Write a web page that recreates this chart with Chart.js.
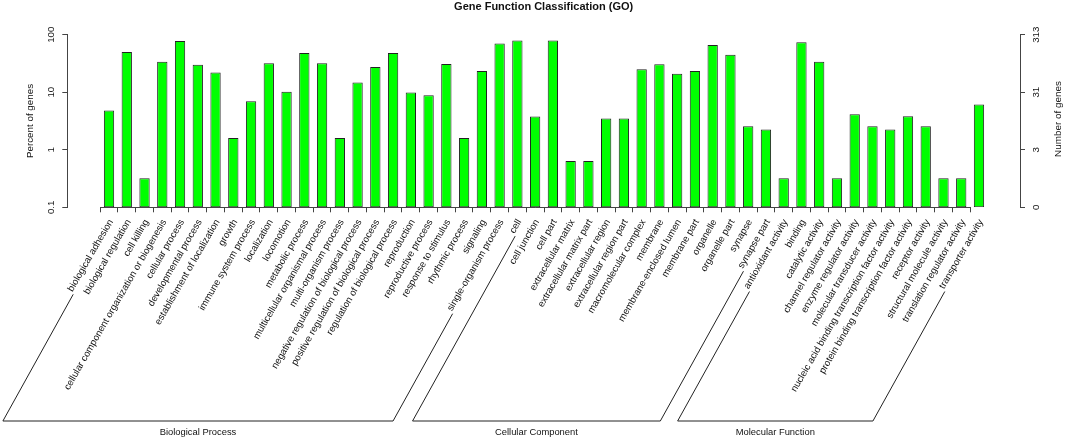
<!DOCTYPE html>
<html>
<head>
<meta charset="utf-8">
<script src="https://cdn.jsdelivr.net/npm/chart.js@4.4.0/dist/chart.umd.min.js"></script>
<style>
  html, body { margin: 0; padding: 0; background: #ffffff; }
  #wrap { width: 1065px; height: 440px; position: relative; }
</style>
</head>
<body>
<div id="wrap"><canvas id="chart"></canvas></div>
<script>
// ---------------- data ----------------
const chartTitle = 'Gene Function Classification (GO)';
const categories = [
  'biological adhesion', 'biological regulation', 'cell killing',
  'cellular component organization or biogenesis', 'cellular process',
  'developmental process', 'establishment of localization', 'growth',
  'immune system process', 'localization', 'locomotion', 'metabolic process',
  'multicellular organismal process', 'multi-organism process',
  'negative regulation of biological process', 'positive regulation of biological process',
  'regulation of biological process', 'reproduction', 'reproductive process',
  'response to stimulus', 'rhythmic process', 'signaling', 'single-organism process',
  'cell', 'cell junction', 'cell part', 'extracellular matrix', 'extracellular matrix part',
  'extracellular region', 'extracellular region part', 'macromolecular complex', 'membrane',
  'membrane-enclosed lumen', 'membrane part', 'organelle', 'organelle part', 'synapse',
  'synapse part', 'antioxidant activity', 'binding', 'catalytic activity',
  'channel regulator activity', 'enzyme regulator activity', 'molecular transducer activity',
  'nucleic acid binding transcription factor activity',
  'protein binding transcription factor activity', 'receptor activity',
  'structural molecule activity', 'translation regulator activity', 'transporter activity'
];
const percentOfGenes = [
  4.8, 50, 0.32, 34, 78, 30, 22, 1.6, 7.0, 32, 10.2, 48, 32, 1.6, 14.7, 27.5, 48,
  9.9, 8.9, 31, 1.6, 23.3, 70,
  79, 3.8, 79, 0.64, 0.64, 3.5, 3.5, 25, 30.5, 21, 23.3, 66, 45, 2.56, 2.24,
  0.32, 74, 34, 0.32, 4.15, 2.56, 2.24, 3.83, 2.56, 0.32, 0.32, 6.1
];
const groupNames = ['Biological Process', 'Cellular Component', 'Molecular Function'];
const groupFirst = [0, 23, 38];
const groupLast = [22, 37, 49];
const leftTickValues = [0.1, 1, 10, 100];
const leftTickLabels = ['0.1', '1', '10', '100'];
const rightTickLabels = ['0', '3', '31', '313'];
const leftAxisTitle = 'Percent of genes';
const rightAxisTitle = 'Number of genes';

// ---------------- styles ----------------
const FONT_FAMILY = '"Liberation Sans", Arial, Helvetica, sans-serif';
const TEXT = '#111111';
const AXIS = '#444444';
const X_FONT_SIZE = 9.6;
const X_TICK_LEN = 5;
const X_TICK_PAD = 5;
const X_LABEL_SHIFT = 2;
Chart.defaults.font.family = FONT_FAMILY;

const barData = percentOfGenes.map((v, i) => ({ x: i, y: v }));

const titlePlugin = {
  id: 'plotTitle',
  afterDraw(chart) {
    const a = chart.chartArea;
    const ctx = chart.ctx;
    ctx.save();
    ctx.font = 'bold 11px ' + FONT_FAMILY;
    ctx.fillStyle = TEXT;
    ctx.textAlign = 'center';
    ctx.textBaseline = 'middle';
    ctx.fillText(chartTitle, (a.left + a.right) / 2, 7);
    ctx.restore();
  }
};

const xAxisLinePlugin = {
  id: 'xAxisLine',
  afterDraw(chart) {
    const xs = chart.scales.x;
    const ctx = chart.ctx;
    ctx.save();
    ctx.strokeStyle = AXIS;
    ctx.lineWidth = 1;
    const y = Math.round(xs.top) + 0.5;
    ctx.beginPath();
    ctx.moveTo(xs.getPixelForValue(-0.5), y);
    ctx.lineTo(xs.getPixelForValue(categories.length - 1.5), y);
    ctx.stroke();
    ctx.restore();
  }
};

const bracketPlugin = {
  id: 'groupBrackets',
  afterDraw(chart) {
    const xs = chart.scales.x;
    const ctx = chart.ctx;
    ctx.save();
    ctx.font = X_FONT_SIZE + 'px ' + FONT_FAMILY;
    const lh = X_FONT_SIZE * 1.2;
    const y0 = xs.top + X_TICK_LEN + X_TICK_PAD;
    const lineY = xs.bottom - 19;
    const slope = 0.555;
    const gap = 4;
    const labelStart = (i) => {
      const px = xs.getPixelForValue(i) + X_LABEL_SHIFT;
      const w = ctx.measureText(categories[i]).width;
      const sx = px - w * 0.5 + lh * 0.433;
      const sy = y0 + w * 0.866 + lh * 0.25;
      return { x: sx - gap * 0.5, y: sy + gap * 0.866 };
    };
    ctx.strokeStyle = '#222222';
    ctx.lineWidth = 1;
    ctx.fillStyle = TEXT;
    for (let g = 0; g < groupNames.length; g++) {
      const a = labelStart(groupFirst[g]);
      const b = labelStart(groupLast[g]);
      const ax = a.x - (lineY - a.y) * slope;
      const bx = b.x - (lineY - b.y) * slope;
      ctx.beginPath();
      ctx.moveTo(a.x, a.y);
      ctx.lineTo(ax, lineY);
      ctx.lineTo(bx, lineY);
      ctx.lineTo(b.x, b.y);
      ctx.stroke();
      ctx.font = '9.4px ' + FONT_FAMILY;
      ctx.textAlign = 'center';
      ctx.textBaseline = 'middle';
      ctx.fillText(groupNames[g], (ax + bx) / 2, lineY + 11.7);
      ctx.font = X_FONT_SIZE + 'px ' + FONT_FAMILY;
    }
    ctx.restore();
  }
};

const rightTitlePlugin = {
  id: 'rightTitle',
  afterDraw(chart) {
    const ys = chart.scales.y2;
    const ctx = chart.ctx;
    ctx.save();
    ctx.font = '9.9px ' + FONT_FAMILY;
    ctx.fillStyle = TEXT;
    ctx.textAlign = 'center';
    ctx.textBaseline = 'middle';
    ctx.translate(ys.left + 38, (ys.top + ys.bottom) / 2 - 2);
    ctx.rotate(-Math.PI / 2);
    ctx.fillText(rightAxisTitle, 0, 0);
    ctx.restore();
  }
};

new Chart(document.getElementById('chart'), {
  type: 'bar',
  data: {
    datasets: [{
      data: barData,
      backgroundColor: '#00ff00',
      borderColor: '#222222',
      borderWidth: 1,
      borderSkipped: false,
      categoryPercentage: 1,
      barPercentage: 0.58
    }]
  },
  options: {
    responsive: true,
    maintainAspectRatio: false,
    animation: false,
    layout: { padding: { top: 34.7, left: 0, right: 0, bottom: 0 } },
    plugins: {
      legend: { display: false },
      tooltip: { enabled: false },
      title: { display: false }
    },
    scales: {
      x: {
        type: 'linear',
        offset: false,
        bounds: 'data',
        min: -2.35,
        max: categories.length - 1 + 2.31,
        afterBuildTicks: (s) => { s.ticks = categories.map((_, i) => ({ value: i })); },
        afterFit: (s) => { s.height = 232.7; },
        ticks: {
          autoSkip: false,
          minRotation: 60,
          maxRotation: 60,
          padding: X_TICK_PAD,
          labelOffset: X_LABEL_SHIFT,
          color: TEXT,
          font: { size: X_FONT_SIZE },
          callback: (v) => categories[v]
        },
        grid: {
          offset: true,
          drawOnChartArea: false,
          drawTicks: true,
          tickLength: X_TICK_LEN,
          tickColor: (c) => (c.type === 'tick' ? AXIS : 'rgba(0,0,0,0)')
        },
        border: { display: false }
      },
      y: {
        type: 'logarithmic',
        position: 'left',
        min: 0.1,
        max: 100,
        afterBuildTicks: (s) => { s.ticks = leftTickValues.map((v) => ({ value: v })); },
        afterFit: (s) => { s.width = 67.3; },
        ticks: {
          minRotation: 90,
          maxRotation: 90,
          crossAlign: 'center',
          padding: 2.5,
          color: TEXT,
          font: { size: 9.7 },
          callback: (v, i) => leftTickLabels[i]
        },
        grid: { drawOnChartArea: false, tickLength: 5, tickColor: AXIS },
        border: { display: true, color: AXIS, width: 1 },
        title: {
          display: true,
          text: leftAxisTitle,
          color: TEXT,
          font: { size: 9.8 },
          padding: { top: 24.6, bottom: 0 }
        }
      },
      y2: {
        type: 'logarithmic',
        position: 'right',
        min: 0.1,
        max: 100,
        afterBuildTicks: (s) => { s.ticks = leftTickValues.map((v) => ({ value: v })); },
        afterFit: (s) => { s.width = 45; },
        ticks: {
          minRotation: 90,
          maxRotation: 90,
          crossAlign: 'center',
          padding: 3.6,
          color: TEXT,
          font: { size: 9.7 },
          callback: (v, i) => rightTickLabels[i]
        },
        grid: { drawOnChartArea: false, tickLength: 5, tickColor: AXIS },
        border: { display: true, color: AXIS, width: 1 }
      }
    }
  },
  plugins: [titlePlugin, xAxisLinePlugin, bracketPlugin, rightTitlePlugin]
});
</script>
</body>
</html>
